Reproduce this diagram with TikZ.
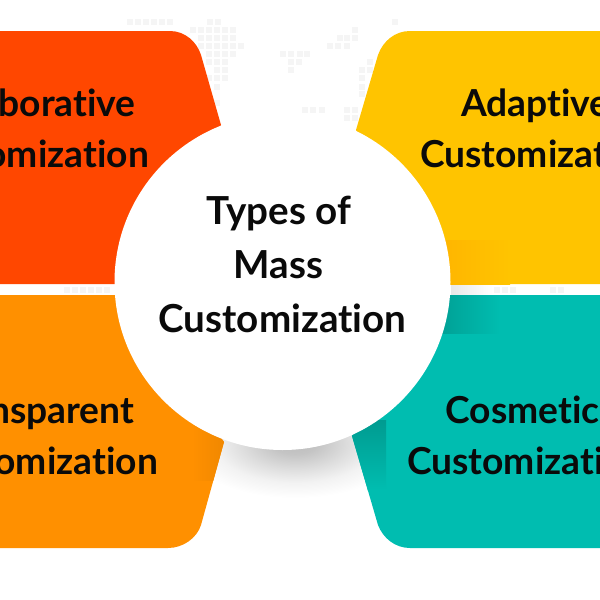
\documentclass[tikz,border=0pt]{standalone}
\usepackage{fontspec}
\setmainfont{Lato}[Ligatures=NoCommon]
\usetikzlibrary{calc}
\definecolor{cred}{HTML}{FF4700}
\definecolor{cyellow}{HTML}{FFC400}
\definecolor{corange}{HTML}{FF9000}
\definecolor{cteal}{HTML}{00BDB0}
\definecolor{cdot}{HTML}{F5F5F5}
\definecolor{cink}{HTML}{0A0A0A}
\pgfdeclareradialshading{groundshadow}{\pgfpoint{0bp}{0bp}}{color(0bp)=(black!26); color(5bp)=(black!23); color(12bp)=(black!13); color(18bp)=(black!5); color(25bp)=(white); color(50bp)=(white)}
\tikzset{
  label/.style={font=\bfseries\fontsize{#1}{#1}\selectfont, text=cink, align=center, inner sep=0pt},
  mapdot/.style={fill=cdot}
}
\newcommand{\dotrow}[2]{\foreach \xx in {#2} \fill[mapdot] (\xx-2.7,#1-2.7) rectangle ++(5.4,5.4);}
\begin{document}
\begin{tikzpicture}[x=1pt,y=-1pt]
\useasboundingbox (0,0) rectangle (600,600);
\fill[white] (0,0) rectangle (600,600);
% faint world map
\dotrow{22}{130,138,146,154,162,170,210,218,395}
\dotrow{30}{193,201,209,217,225,233,355}
\dotrow{38}{201,209,217,225,233,340,347,355}
\dotrow{46}{201,209,217,225,233,241,330,338,347}
\dotrow{54}{209,217,225,233,283,291,300,307}
\dotrow{62}{209,217,225,291,299,370}
\dotrow{70}{217,225,291,362,370}
\dotrow{78}{209,217,225,362}
\dotrow{87}{217,362}
\dotrow{94}{362}
\dotrow{103}{217}
\dotrow{110}{305,313,322,347,355}
\dotrow{118}{347,355}
\dotrow{290}{67,75,83,91,99,107,497,505,513,553,561}
% shadow on the ground
\shade[shading=groundshadow] (295,443) ellipse [x radius=112, y radius=55];
% gap shadow
\shade[left color=black!9, right color=white] (451,284) rectangle (492,295);
% red
\fill[cred] (-10,31) -- (170,31) .. controls (185,31) and (197,42) .. (201,55) -- (221,125) -- (150,284) -- (-10,284) -- cycle;
% yellow
\fill[cyellow] (610,31) -- (410,31) .. controls (395,31) and (383,41) .. (378,55) -- (356,130) -- (430,284) -- (610,284) -- cycle;
\shade[left color=cyellow!78!orange, right color=cyellow] (440,240) rectangle (510,284);
% orange
\begin{scope}
\clip (-10,295) -- (115,295) -- (224,442) -- (201,525) .. controls (197,538) and (183,548) .. (168,548) -- (-10,548) -- cycle;
\fill[corange] (-10,295) rectangle (240,560);
\shade[left color=corange, right color=corange!94!black] (192,420) rectangle (226,480);
\end{scope}
% teal
\begin{scope}
\clip (610,295) -- (440,295) -- (352,436) -- (378,525) .. controls (383,538) and (395,548) .. (410,548) -- (610,548) -- cycle;
\fill[cteal] (340,290) rectangle (610,560);
\shade[top color=cteal!82!black, bottom color=cteal] (345,420) rectangle (386,490);
\shade[left color=cteal!85!black, right color=cteal] (440,295) rectangle (500,333);
\end{scope}
% centre circle
\node[circle, fill=white, minimum size=336pt, inner sep=0pt] (hub) at (282.5,282) {};
\node[label=38.6] (title) at (282.5,264.5) {Types of\kern8pt\\[15.4pt]Mass\kern8pt\\[15.4pt]Customization};
\node[label=37.2] (collab) at (29.5,128.5) {Collaborative\kern8pt\\[13.8pt]Customization};
\node[label=37.2] (adaptive) at (539.5,128.5) {Adaptive\kern8pt\\[13.8pt]Customization};
\node[label=37.2] (transp) at (38.5,435.5) {Transparent\kern5pt\\[13.8pt]Customization};
\node[label=37.2] (cosmetic) at (526.5,435.5) {Cosmetic\kern8pt\\[13.8pt]Customization};
\end{tikzpicture}
\end{document}
